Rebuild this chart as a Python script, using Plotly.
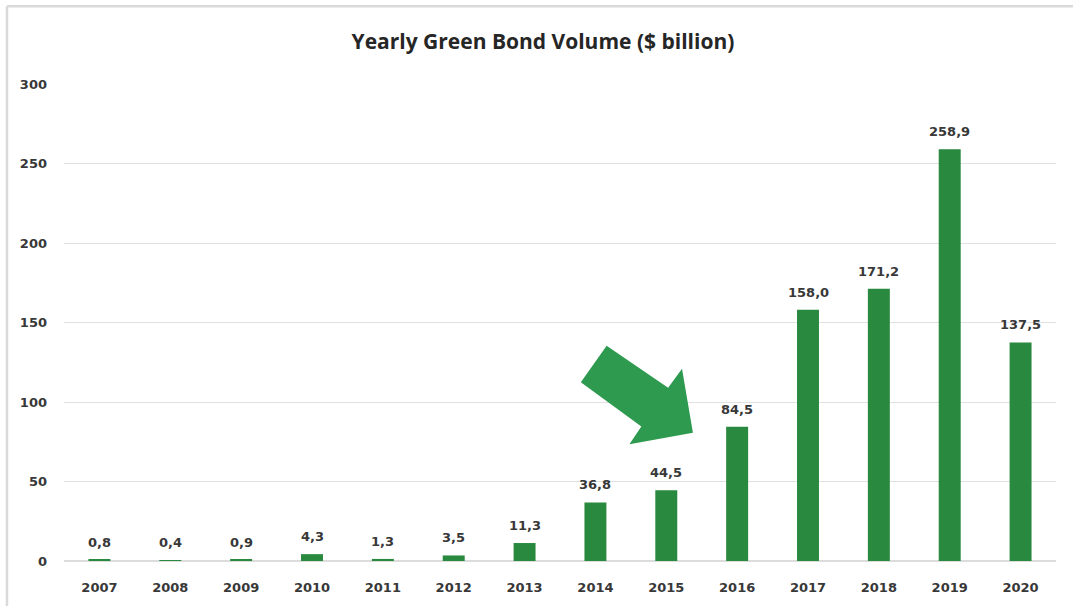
import plotly.graph_objects as go

years = ["2007", "2008", "2009", "2010", "2011", "2012", "2013", "2014",
         "2015", "2016", "2017", "2018", "2019", "2020"]
volumes = [0.8, 0.4, 0.9, 4.3, 1.3, 3.5, 11.3, 36.8, 44.5, 84.5, 158.0, 171.2, 258.9, 137.5]
labels = ["0,8", "0,4", "0,9", "4,3", "1,3", "3,5", "11,3", "36,8", "44,5", "84,5",
          "158,0", "171,2", "258,9", "137,5"]
y_ticks = [0, 50, 100, 150, 200, 250, 300]

FONT = "DejaVu Sans"
TXT = "#383838"

fig = go.Figure()
fig.add_trace(go.Bar(
    x=years, y=volumes,
    marker=dict(color="#28893f", line=dict(width=0)),
    hoverinfo="x+y",
))

for i, (v, lab) in enumerate(zip(volumes, labels)):
    fig.add_annotation(x=i, y=v, text=f"<b>{lab}</b>", showarrow=False,
                       xref="x", yref="y", yanchor="bottom", yshift=8,
                       font=dict(family=FONT, size=13, color=TXT))

# decorative arrow pointing to 2016
arrow_pts = [(0.547, 0.451), (0.521, 0.375), (0.582, 0.282), (0.570, 0.245),
             (0.634, 0.269), (0.623, 0.403), (0.609, 0.363)]
path = "M" + " L".join(f"{px},{py}" for px, py in arrow_pts) + " Z"
fig.add_shape(type="path", path=path, xref="paper", yref="paper",
              fillcolor="#2e9a4f", line=dict(width=0))

# frame lines (top and left)
fig.add_shape(type="line", xref="paper", yref="paper", x0=-0.0575, x1=1.02,
              y0=1.163, y1=1.163, line=dict(color="#dadada", width=2.5))
fig.add_shape(type="line", xref="paper", yref="paper", x0=-0.0575, x1=-0.0575,
              y0=1.163, y1=-0.1, line=dict(color="#dadada", width=2.5))

fig.update_layout(
    width=1073, height=606,
    margin=dict(l=63.5, r=16.5, t=83.5, b=44.5),
    paper_bgcolor="white", plot_bgcolor="white",
    title=dict(text="<b>Yearly Green Bond Volume ($ billion)</b>",
               x=0.506, xanchor="center", y=0.931, yanchor="middle",
               xref="container", yref="container",
               font=dict(family="Open Sans", size=21, color="#262626")),
    bargap=0.69,
    showlegend=False,
)
fig.update_xaxes(type="category", range=[-0.5, len(years) - 0.5],
                 showgrid=False, showline=False, ticks="",
                 tickfont=dict(family=FONT, size=13, color=TXT, weight="bold"),
                 ticklabelstandoff=17)
fig.update_yaxes(range=[0, 300], tickvals=y_ticks, showgrid=True,
                 gridcolor="#e0e0e0", gridwidth=1.3, zeroline=True,
                 zerolinecolor="#dcdcdc", zerolinewidth=1.5, showline=False,
                 ticks="", ticklabelstandoff=16,
                 tickfont=dict(family=FONT, size=13, color=TXT, weight="bold"))

fig.write_html("out.html")
